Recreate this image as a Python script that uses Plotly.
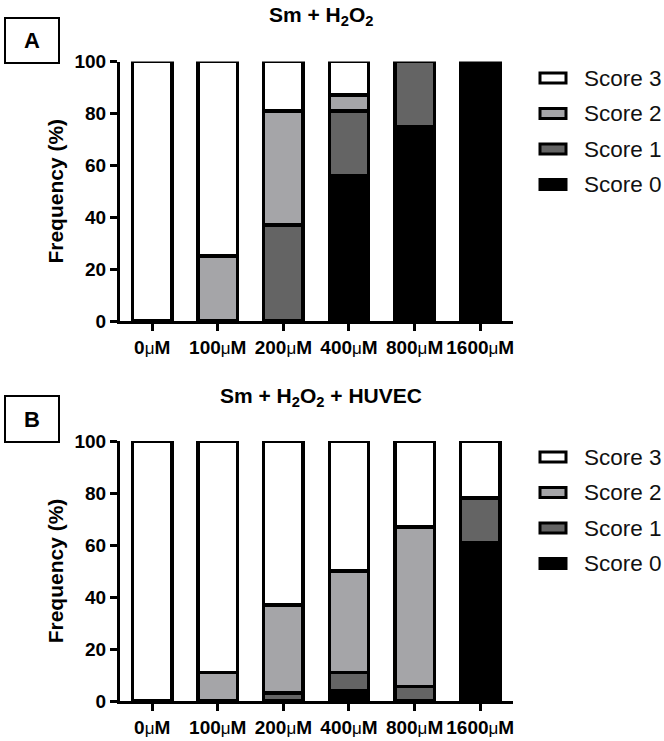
import plotly.graph_objects as go

# ---------------- data ----------------
categories = ["0μM", "100μM", "200μM", "400μM", "800μM", "1600μM"]
series_names = ["Score 0", "Score 1", "Score 2", "Score 3"]
series_colors = ["#000000", "#646464", "#a5a5a8", "#ffffff"]

# Panel A: Sm + H2O2
score0_A = [0, 0, 0, 56, 75, 100]
score1_A = [0, 0, 37, 25, 25, 0]
score2_A = [0, 25, 44, 6, 0, 0]
score3_A = [100, 75, 19, 13, 0, 0]

# Panel B: Sm + H2O2 + HUVEC
score0_B = [0, 0, 0, 4, 0, 61]
score1_B = [0, 0, 3, 7, 5.5, 17]
score2_B = [0, 11, 34, 39, 61.5, 0]
score3_B = [100, 89, 63, 50, 33, 22]

y_ticks = [0, 20, 40, 60, 80, 100]

title_A = "Sm + H<sub>2</sub>O<sub>2</sub>"
title_B = "Sm + H<sub>2</sub>O<sub>2</sub> + HUVEC"
y_title = "Frequency (%)"

# ---------------- layout helpers ----------------
W, H = 664, 741
FONT = "Liberation Sans, Arial, sans-serif"


def px(x):
    return x / W


def py(y):
    return 1 - y / H


def tick_label(c):
    num = c.replace("μM", "")
    return f"{num}<span style='font-weight:normal;font-size:17px'>μ</span>M"


tick_text = [tick_label(c) for c in categories]

fig = go.Figure()

panels = [
    ("x", "y", [score0_A, score1_A, score2_A, score3_A]),
    ("x2", "y2", [score0_B, score1_B, score2_B, score3_B]),
]
for xa, ya, arrs in panels:
    for name, color, vals in zip(series_names, series_colors, arrs):
        fig.add_trace(go.Bar(
            x=categories,
            y=[v if v else None for v in vals],
            name=name,
            xaxis=xa, yaxis=ya,
            marker=dict(color=color, line=dict(color="black", width=3.5)),
            width=0.6,
            showlegend=False,
            hoverinfo="skip",
        ))

axis_common = dict(
    showline=True, linecolor="black", linewidth=3,
    ticks="outside", ticklen=7, tickwidth=3, tickcolor="black",
    showgrid=False, zeroline=False, automargin=False,
    tickfont=dict(family=FONT, size=19, color="black", weight="bold"),
)

x_dom = [px(120), px(513)]
yA_dom = [py(321), py(61.5)]
yB_dom = [py(701), py(441)]
ytitle_font = dict(family=FONT, size=21, color="black", weight="bold")

fig.update_layout(
    template="none",
    width=W, height=H,
    margin=dict(l=0, r=0, t=0, b=0, pad=0),
    paper_bgcolor="white", plot_bgcolor="white",
    barmode="stack",
    xaxis=dict(domain=x_dom, anchor="y", range=[-0.49, 5.5],
               tickvals=categories, ticktext=tick_text, **axis_common),
    yaxis=dict(domain=yA_dom, anchor="x", range=[0, 100], tickvals=y_ticks,
               title=dict(text=y_title, font=ytitle_font, standoff=6),
               **axis_common),
    xaxis2=dict(domain=x_dom, anchor="y2", range=[-0.49, 5.5],
                tickvals=categories, ticktext=tick_text, **axis_common),
    yaxis2=dict(domain=yB_dom, anchor="x2", range=[0, 100], tickvals=y_ticks,
                title=dict(text=y_title, font=ytitle_font, standoff=6),
                **axis_common),
)

shapes = []
annotations = []

# panel titles
for txt, ycen in [(title_A, 16), (title_B, 397)]:
    annotations.append(dict(
        x=px(321), y=py(ycen), xref="paper", yref="paper",
        text=f"<b>{txt}</b>", showarrow=False, xanchor="center", yanchor="middle",
        font=dict(family=FONT, size=21, color="black"),
    ))

# panel letters in boxes
for letter, (x0, y0, x1, y1) in [("A", (5, 18, 59, 63)), ("B", (5, 396, 59, 442))]:
    shapes.append(dict(type="rect", xref="paper", yref="paper",
                       x0=px(x0), x1=px(x1), y0=py(y1), y1=py(y0),
                       line=dict(color="black", width=2), fillcolor="white"))
    annotations.append(dict(
        x=px((x0 + x1) / 2), y=py((y0 + y1) / 2), xref="paper", yref="paper",
        text=f"<b>{letter}</b>", showarrow=False, xanchor="center", yanchor="middle",
        font=dict(family=FONT, size=22, color="black"),
    ))

# custom legends (Score 3 at top)
legend_order = list(range(len(series_names)))[::-1]
for top in [78, 457]:
    for i, s in enumerate(legend_order):
        yc = top + i * 35.5
        shapes.append(dict(type="rect", xref="paper", yref="paper",
                           x0=px(540), x1=px(566), y0=py(yc + 5), y1=py(yc - 5),
                           fillcolor=series_colors[s],
                           line=dict(color="black", width=3)))
        annotations.append(dict(
            x=px(582), y=py(yc), xref="paper", yref="paper",
            text=series_names[s], showarrow=False, xanchor="left", yanchor="middle",
            font=dict(family=FONT, size=22.5, color="#111111"),
        ))

fig.update_layout(shapes=shapes, annotations=annotations)

fig.write_html("out.html")
